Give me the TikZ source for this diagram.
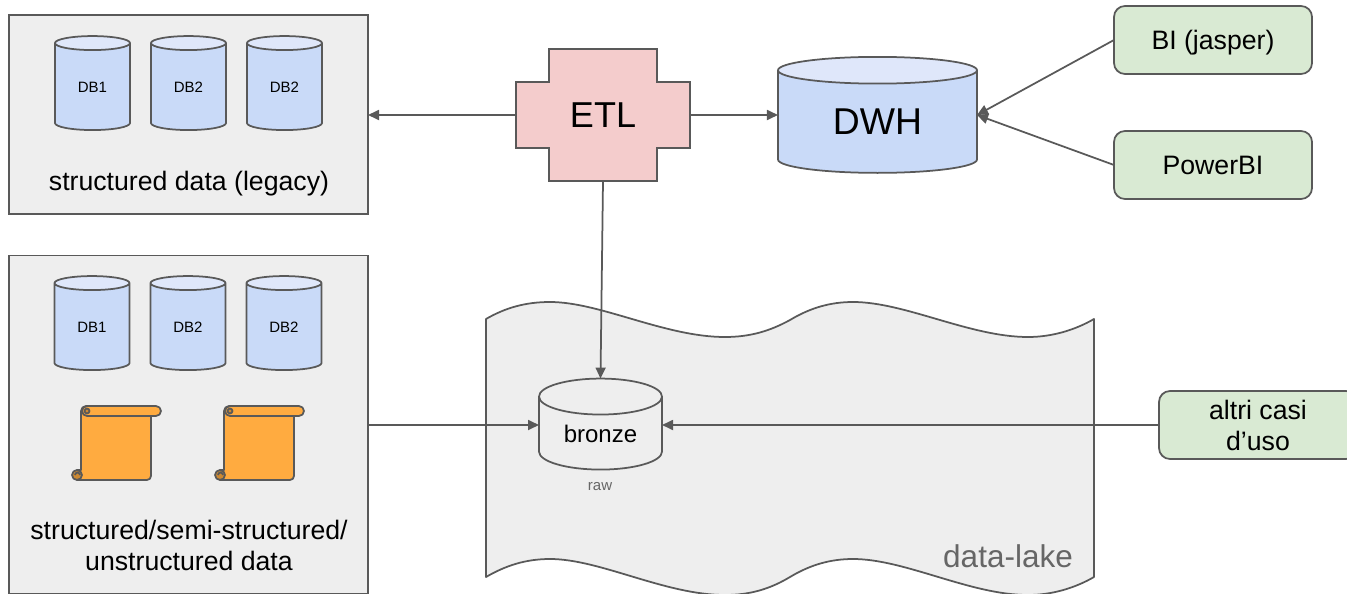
\documentclass[tikz,border=0pt]{standalone}
\usepackage{fontspec}
\setmainfont{Liberation Sans}
\definecolor{ln}{RGB}{89, 89, 89}
\definecolor{pn}{RGB}{238, 238, 238}
\definecolor{dbbody}{RGB}{201, 218, 248}
\definecolor{dbtop}{RGB}{223, 231, 250}
\definecolor{etlc}{RGB}{244, 204, 204}
\definecolor{gr}{RGB}{217, 234, 211}
\definecolor{sc}{RGB}{255, 171, 64}
\definecolor{scd}{RGB}{204, 137, 51}
\definecolor{tx}{RGB}{102, 102, 102}
\usetikzlibrary{shapes.geometric}
\usetikzlibrary{arrows.meta}
\tikzset{
  panel/.style={rectangle, draw=ln, fill=pn, line width=1.75pt, outer sep=0pt},
  db/.style={cylinder, shape border rotate=90, cylinder uses custom fill, cylinder body fill=dbbody, cylinder end fill=dbtop, draw=ln, line width=1.75pt, outer sep=0pt, inner sep=0pt, aspect=0.48, minimum width=75pt, minimum height=94pt, font=\fontsize{15pt}{18pt}\selectfont},
  tool/.style={rectangle, rounded corners=11pt, draw=ln, fill=gr, line width=1.75pt, outer sep=0pt, minimum width=198pt, minimum height=68pt, font=\fontsize{26.67pt}{31pt}\selectfont, align=center},
  lbl/.style={font=\fontsize{26.67pt}{31pt}\selectfont, align=center},
  arr/.style={-{Triangle[length=11pt,width=10pt]}, draw=ln, line width=1.75pt},
  curl/.style={draw=ln, line width=1.75pt, line join=round},
}
\begin{document}
\begin{tikzpicture}[x=1pt, y=1pt]
\useasboundingbox (0,0) rectangle (1347,-594);
\node (legacy) [panel, minimum width=359pt, minimum height=199pt] at (188.5,-114.5) {};
\node (db1) [db] at (92.5,-87) {DB1};
\node (db2) [db] at (188.5,-87) {DB2};
\node (db3) [db] at (284.5,-87) {DB2};
\node (legacytxt) [lbl] at (189,-184) {structured data (legacy)};
\node (mixed) [panel, minimum width=359pt, minimum height=338pt] at (188.5,-424.5) {};
\node (db4) [db] at (92,-327) {DB1};
\node (db5) [db] at (188,-327) {DB2};
\node (db6) [db] at (284,-327) {DB2};
\foreach \x in {0, 143} {
\begin{scope}[xshift=\x pt]
\draw [curl, fill=sc] (87,-406) -- (156,-406) arc[start angle=90, end angle=-90, radius=5] -- (151,-416) -- (151,-476) arc[start angle=0, end angle=-90, radius=4] -- (77,-480) -- (77,-470) -- (81,-470) -- (81,-411) arc[start angle=180, end angle=90, radius=5] -- cycle;
\draw [curl] (151,-416) -- (87,-416) arc[start angle=270, end angle=90, radius=5];
\draw [curl, fill=scd] (87,-411) circle (2.5);
\draw [curl, fill=scd] (77,-475) circle (5);
\draw [curl] (77,-470) -- (81,-470) (75,-475) arc[start angle=180, end angle=0, radius=2.5];
\end{scope}
}
\node (mixedtxt) [lbl] at (189,-545) {structured/semi-structured/\\unstructured data};
\draw [draw=ln, fill=etlc, line width=1.75pt] (549,-49) -- (657,-49) -- (657,-82) -- (690,-82) -- (690,-148) -- (657,-148) -- (657,-181) -- (549,-181) -- (549,-148) -- (516,-148) -- (516,-82) -- (549,-82) -- cycle;
\node (etl) [minimum width=174pt, minimum height=132pt, outer sep=0pt, inner sep=0pt, font=\fontsize{36pt}{40pt}\selectfont] at (603,-115) {ETL};
\node (dwh) [db, aspect=0.3, minimum width=199pt, minimum height=116pt, font=\fontsize{37.33pt}{40pt}\selectfont] at (877.5,-122) {DWH};
\coordinate (dwhport) at (etl.east -| dwh.east);
\node (bi) [tool, text height=26pt, text depth=6pt] at (1213,-40) {BI (jasper)};
\node (pbi) [tool] at (1213,-165) {PowerBI};
\draw [draw=ln, fill=pn, line width=1.75pt, line join=round] (486,-319) .. controls (505,-308) and (525,-302) .. (550,-302) .. controls (600,-302) and (665,-337) .. (725,-337) .. controls (750,-337) and (770,-331) .. (790,-320) .. controls (810,-308) and (830,-302) .. (853,-302) .. controls (905,-302) and (970,-337) .. (1028,-337) .. controls (1052,-337) and (1075,-330) .. (1094,-319) -- (1094,-577) .. controls (1075,-588) and (1052,-595) .. (1028,-595) .. controls (970,-595) and (905,-559) .. (853,-559) .. controls (830,-559) and (810,-565) .. (790,-577) .. controls (770,-589) and (750,-595) .. (725,-595) .. controls (665,-595) and (600,-559) .. (550,-559) .. controls (525,-559) and (505,-566) .. (486,-577) -- cycle;
\node (lake) [anchor=base east, inner sep=0pt, text=tx, font=\fontsize{31.5pt}{36pt}\selectfont] at (1073,-567) {data-lake};
\node (bronze) [db, cylinder body fill=pn, cylinder end fill=pn, minimum width=123pt, minimum height=91pt, aspect=0.49, font=\fontsize{24pt}{28pt}\selectfont] at (600.5,-433.5) {bronze};
\node (raw) [text=tx, inner sep=0pt, font=\fontsize{15pt}{18pt}\selectfont] at (600,-487) {raw};
\node (altri) [tool] at (1258,-425) {altri casi\\d'uso};
\draw [arr] (etl.west) to (etl.west -| legacy.east);
\draw [arr] (etl.east) to (dwhport -| dwh.west);
\draw [arr] (etl.south) to (bronze.north);
\draw [arr] (bi.west) to (dwhport);
\draw [arr] (pbi.west) to (dwhport);
\draw [arr] (altri.west -| mixed.east) to (altri.west -| bronze.west);
\draw [arr] (altri.west) to (altri.west -| bronze.east);
\end{tikzpicture}
\end{document}
